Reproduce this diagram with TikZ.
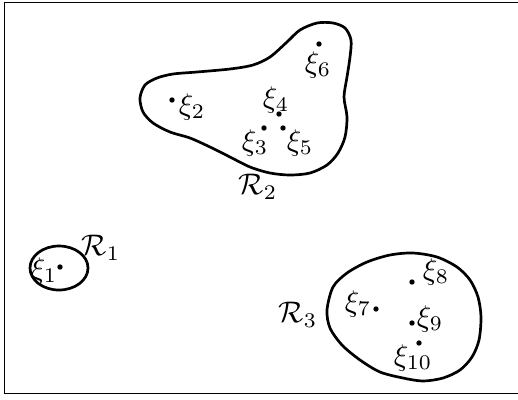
\documentclass[tikz,border=0pt]{standalone}
\usepackage{amsmath,amssymb}
\usetikzlibrary{positioning}
\tikzset{
    region/.style={line width=0.9pt},
    pt/.style={fill=black},
    lab/.style={inner sep=0pt}
}

\begin{document}
\begin{tikzpicture}[x=0.0118cm,y=-0.0118cm]
    \useasboundingbox (0,0) rectangle (518,399);
    % frame
    \draw[line width=0.6pt] (4.5,2.5) rectangle (530,393.5);

    % points
    \foreach \n/\x/\y in {1/60/267,2/172/100,3/264/128,4/279/114,5/283/128,6/319/44,
                          7/376/309,8/412/282,9/412/323,10/419/343} {
        \coordinate (x\n) at (\x,\y);
        \fill[pt] (x\n) circle (0.9pt);
    }

    % point labels
    \foreach \n/\x/\y in {1/44/271,2/192/107,3/255/143,4/276/100,5/300/143,6/318/65,
                          7/358/304,8/436/272,9/430/319,10/413/358} {
        \node[lab] (l\n) at (\x,\y) {$\xi_{\n}$};
    }

    % region R1
    \draw[region] (59,268) ellipse (29 and 22);
    \node[lab] (r1) at (101,248) {$\mathcal{R}_1$};

    % region R2
    \draw[region] plot[smooth cycle, tension=0.5] coordinates {
        (140,98) (145,85) (157,78) (173,74) (197,72) (230,69) (253,65) (270,57)
        (287,42) (300,30) (317,23) (333,23) (345,28) (351,40) (350,57) (347,77)
        (344,97) (347,117) (345,137) (338,153) (327,165) (310,173) (290,175)
        (270,173) (250,167) (230,157) (210,147) (190,138) (170,132) (153,123)
        (143,112)};
    \node[lab] (r2) at (258,187) {$\mathcal{R}_2$};

    % region R3
    \draw[region] plot[smooth cycle, tension=0.5] coordinates {
        (327,310) (333,287) (347,273) (367,262) (390,255) (413,253) (437,257)
        (457,267) (470,280) (478,297) (481,317) (479,340) (472,357) (460,370)
        (443,378) (423,381) (403,378) (380,372) (360,360) (342,345) (330,328)};
    \node[lab] (r3) at (298,315) {$\mathcal{R}_3$};
\end{tikzpicture}
\end{document}
